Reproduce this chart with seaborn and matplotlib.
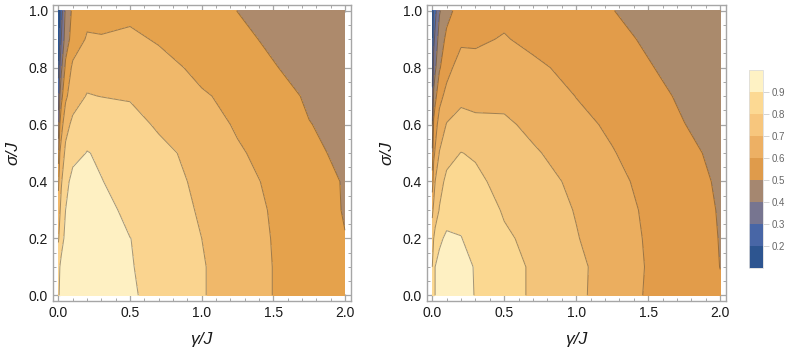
import numpy as np
import matplotlib
matplotlib.use("Agg")
import matplotlib.pyplot as plt
import seaborn as sns
from matplotlib.colors import ListedColormap, BoundaryNorm
import matplotlib.colorbar as mcolorbar
from matplotlib.ticker import MultipleLocator, NullLocator

# ---------------- data ----------------
gamma = [0.0, 0.01, 0.02, 0.05, 0.1, 0.2, 0.3, 0.5, 0.7, 1.0, 1.25, 1.5, 1.75, 2.0]
sigma = [0.0, 0.1, 0.2, 0.3, 0.4, 0.5, 0.6, 0.7, 0.8, 0.9, 1.0]

# left panel: rows = sigma, columns = gamma
Z_left = [
    [0.79, 0.81, 0.83, 0.845, 0.86, 0.87, 0.865, 0.81, 0.775, 0.705, 0.665, 0.598, 0.56, 0.53],
    [0.76, 0.80, 0.82, 0.84, 0.86, 0.87, 0.865, 0.805, 0.77, 0.705, 0.665, 0.598, 0.56, 0.52],
    [0.69, 0.73, 0.77, 0.82, 0.85, 0.87, 0.86, 0.801, 0.77, 0.70, 0.66, 0.595, 0.55, 0.502],
    [0.64, 0.69, 0.73, 0.80, 0.84, 0.86, 0.84, 0.77, 0.75, 0.69, 0.65, 0.59, 0.54, 0.495],
    [0.58, 0.65, 0.69, 0.77, 0.83, 0.845, 0.802, 0.775, 0.74, 0.68, 0.635, 0.58, 0.53, 0.495],
    [0.45, 0.60, 0.64, 0.72, 0.77, 0.803, 0.79, 0.77, 0.73, 0.66, 0.61, 0.57, 0.51, 0.49],
    [0.35, 0.50, 0.56, 0.67, 0.72, 0.76, 0.765, 0.74, 0.685, 0.64, 0.59, 0.55, 0.502, 0.48],
    [0.25, 0.40, 0.47, 0.58, 0.66, 0.705, 0.698, 0.69, 0.675, 0.61, 0.575, 0.53, 0.49, 0.47],
    [0.17, 0.30, 0.38, 0.52, 0.62, 0.66, 0.67, 0.67, 0.635, 0.575, 0.55, 0.505, 0.47, 0.45],
    [0.12, 0.20, 0.30, 0.45, 0.54, 0.61, 0.607, 0.62, 0.59, 0.555, 0.52, 0.485, 0.455, 0.43],
    [0.08, 0.18, 0.26, 0.42, 0.52, 0.57, 0.565, 0.575, 0.57, 0.54, 0.499, 0.47, 0.44, 0.42],
]

# right panel
Z_right = [
    [0.82, 0.87, 0.90, 0.925, 0.935, 0.925, 0.897, 0.83, 0.79, 0.72, 0.655, 0.59, 0.55, 0.51],
    [0.80, 0.86, 0.90, 0.925, 0.935, 0.925, 0.895, 0.83, 0.79, 0.72, 0.66, 0.593, 0.55, 0.499],
    [0.75, 0.80, 0.83, 0.885, 0.915, 0.902, 0.875, 0.815, 0.775, 0.705, 0.65, 0.59, 0.545, 0.497],
    [0.68, 0.72, 0.75, 0.805, 0.86, 0.88, 0.86, 0.79, 0.755, 0.695, 0.64, 0.585, 0.535, 0.495],
    [0.55, 0.65, 0.70, 0.77, 0.82, 0.85, 0.82, 0.77, 0.74, 0.68, 0.625, 0.575, 0.53, 0.49],
    [0.42, 0.58, 0.61, 0.705, 0.77, 0.802, 0.79, 0.765, 0.71, 0.66, 0.605, 0.56, 0.515, 0.485],
    [0.30, 0.52, 0.56, 0.64, 0.705, 0.73, 0.725, 0.715, 0.68, 0.625, 0.585, 0.545, 0.501, 0.475],
    [0.22, 0.42, 0.47, 0.57, 0.63, 0.68, 0.665, 0.675, 0.66, 0.598, 0.57, 0.52, 0.49, 0.465],
    [0.16, 0.33, 0.38, 0.49, 0.565, 0.649, 0.63, 0.66, 0.62, 0.57, 0.545, 0.505, 0.475, 0.455],
    [0.12, 0.28, 0.32, 0.45, 0.52, 0.58, 0.585, 0.607, 0.575, 0.55, 0.52, 0.49, 0.46, 0.44],
    [0.10, 0.23, 0.27, 0.39, 0.47, 0.54, 0.56, 0.575, 0.56, 0.535, 0.502, 0.47, 0.44, 0.42],
]

levels_left = [0.0, 0.2, 0.3, 0.4, 0.5, 0.6, 0.7, 0.8, 1.0]
levels_right = [0.0, 0.2, 0.3, 0.4, 0.5, 0.6, 0.7, 0.8, 0.9, 1.0]

colors_left = ["#2B5591", "#4A6BAA", "#7A7590", "#AD8A6C", "#E5A24C", "#F0B86A", "#FAD48F", "#FEF0C2"]
colors_right = ["#2B5591", "#4A6BAA", "#78748E", "#AA8A6C", "#E29C4A", "#EBAE5F", "#F3C47A", "#FBD891", "#FEF0C2"]

legend_bounds = [0.1, 0.2, 0.3, 0.4, 0.5, 0.6, 0.7, 0.8, 0.9, 1.0]
legend_colors = ["#2D5590", "#4866A6", "#777590", "#A58770", "#DF9B4B", "#EDB064", "#F7C67D", "#FCD993", "#FEF2C4"]
legend_ticks = [0.2, 0.3, 0.4, 0.5, 0.6, 0.7, 0.8, 0.9]

x_ticks = [0.0, 0.5, 1.0, 1.5, 2.0]
y_ticks = [0.0, 0.2, 0.4, 0.6, 0.8, 1.0]
x_label = "γ/J"
y_label = "σ/J"

# ---------------- style ----------------
sns.set_theme(style="white")
plt.rcParams["font.family"] = ["Liberation Sans", "DejaVu Sans"]

W, H = 789, 358
fig = plt.figure(figsize=(W / 100, H / 100), dpi=100)

frame_col = "#a6a6a6"


def make_panel(rect, Z, levels, colors):
    ax = fig.add_axes(rect)
    G, S = np.meshgrid(gamma, sigma)
    Zarr = np.array(Z)
    ax.contourf(G, S, Zarr, levels=levels, colors=colors)
    ax.contour(G, S, Zarr, levels=levels[1:-1], colors="#4a3a2a",
               linewidths=0.7, alpha=0.5)
    ax.set_xlim(-0.04, 2.04)
    ax.set_ylim(-0.02, 1.02)
    ax.set_xticks(x_ticks)
    ax.set_yticks(y_ticks)
    ax.set_xticklabels([f"{v:.1f}" for v in x_ticks])
    ax.set_yticklabels([f"{v:.1f}" for v in y_ticks])
    ax.xaxis.set_minor_locator(MultipleLocator(0.1))
    ax.yaxis.set_minor_locator(MultipleLocator(0.05))
    ax.tick_params(which="both", direction="in", top=True, right=True,
                   bottom=True, left=True, color=frame_col, labelcolor="#1a1a1a",
                   labelsize=10)
    ax.tick_params(which="major", length=5, width=0.9)
    ax.tick_params(which="minor", length=2.5, width=0.7)
    for sp in ax.spines.values():
        sp.set_color(frame_col)
        sp.set_linewidth(1.0)
    ax.set_xlabel(x_label, fontsize=12.5, style="italic", color="#1a1a1a", labelpad=9)
    ax.set_ylabel(y_label, fontsize=12.5, style="italic", color="#1a1a1a", labelpad=6)
    return ax


ax1 = make_panel([52.7 / W, 1 - 301 / H, 298 / W, 296 / H], Z_left, levels_left, colors_left)
ax2 = make_panel([426.5 / W, 1 - 301 / H, 299.5 / W, 296 / H], Z_right, levels_right, colors_right)

# legend bar
cax = fig.add_axes([749 / W, 1 - 268 / H, 14 / W, 198 / H])
cb = mcolorbar.ColorbarBase(cax, cmap=ListedColormap(legend_colors),
                            norm=BoundaryNorm(legend_bounds, len(legend_colors)),
                            ticks=legend_ticks, orientation="vertical")
cb.minorticks_off()
cax.yaxis.set_minor_locator(NullLocator())
cb.outline.set_edgecolor("#dddddd")
cb.outline.set_linewidth(0.6)
cax.tick_params(which="both", direction="out", length=4, width=0.6, color="#cccccc",
                labelsize=7, labelcolor="#666666", pad=2.5)
cax.set_yticklabels([f"{v:.1f}" for v in legend_ticks])

fig.savefig("out.png", dpi=100)
